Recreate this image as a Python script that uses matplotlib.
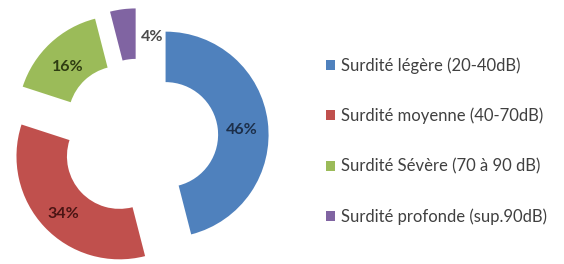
import matplotlib.pyplot as plt
import numpy as np

labels = ["Surdité légère (20-40dB)", "Surdité moyenne (40-70dB)",
          "Surdité Sévère (70 à 90 dB)", "Surdité profonde (sup.90dB)"]
values = [46, 34, 16, 4]
colors = ["#4F81BD", "#C0504D", "#9BBB59", "#8064A2"]
text_colors = ["#1c2f4a", "#4a1514", "#2f3d12", "#4a4a4a"]

plt.rcParams["font.family"] = ["Lato", "DejaVu Sans"]

W, H = 564, 264
fig = plt.figure(figsize=(W / 100, H / 100), dpi=100)
ax = fig.add_axes([0, 0, 1, 1])

wedges, texts, autotexts = ax.pie(
    values, colors=colors, startangle=90, counterclock=False,
    explode=[0.26] * 4, radius=1,
    wedgeprops=dict(width=0.49, edgecolor="none"),
    autopct="%d%%", pctdistance=0.75,
    textprops=dict(fontsize=11.5, fontweight="bold"))

for t, c in zip(autotexts, text_colors):
    t.set_color(c)
    x, y = t.get_position()
    t.set_position((x, y - 0.05))
# small slice: label sits outside, to the right of the wedge
autotexts[3].set_position((0.13, 0.98))

# place the donut: centre at pixel (139, 138), radius 103 px
cx, cy, r = 139, 138, 103
ax.set_xlim(-cx / r, (W - cx) / r)
ax.set_ylim(-(H - cy) / r, cy / r)
ax.set_aspect("auto")
ax.axis("off")

leg = fig.legend(wedges, labels, loc="upper left",
                 bbox_to_anchor=(326 / W, 1 - 57 / H),
                 frameon=False, handlelength=0.55, handleheight=0.55,
                 handletextpad=0.35, labelspacing=2.05, fontsize=12,
                 borderaxespad=0, borderpad=0)
for t in leg.get_texts():
    t.set_color("#404040")

fig.savefig("out.png", dpi=100, facecolor="white")
